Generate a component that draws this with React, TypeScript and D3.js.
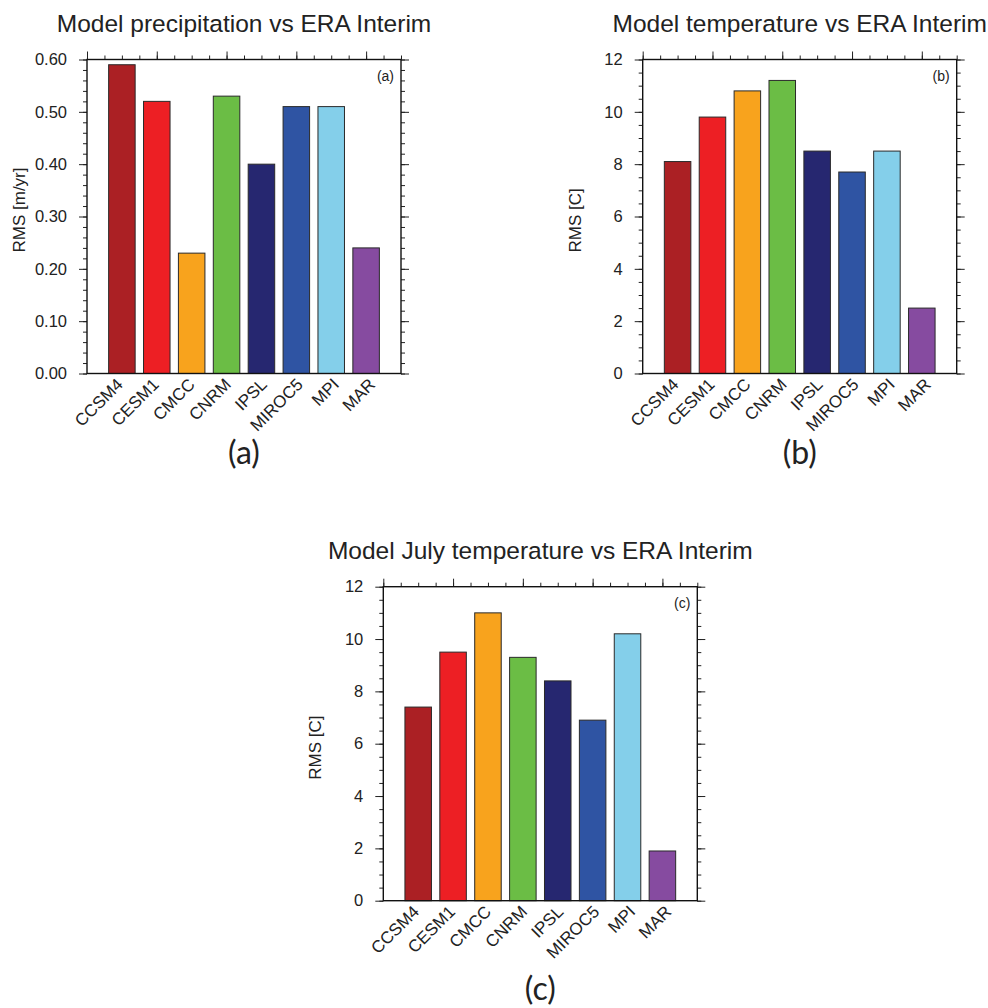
import React, { useEffect, useRef } from 'react';
import * as d3 from 'd3';

const models = ['CCSM4', 'CESM1', 'CMCC', 'CNRM', 'IPSL', 'MIROC5', 'MPI', 'MAR'];
const modelColors = ['#ab2024', '#ed1f24', '#f8a31d', '#6bbd45', '#262770', '#2f54a3', '#84cfea', '#864ba0'];

const precipRms = [0.59, 0.52, 0.23, 0.53, 0.40, 0.51, 0.51, 0.24];
const tempRms = [8.1, 9.8, 10.8, 11.2, 8.5, 7.7, 8.5, 2.5];
const julyTempRms = [7.4, 9.5, 11.0, 9.3, 8.4, 6.9, 10.2, 1.9];

const precipTicks = [0, 0.1, 0.2, 0.3, 0.4, 0.5, 0.6];
const tempTicks = [0, 2, 4, 6, 8, 10, 12];
const topTicks = [0, 2, 4, 6, 8];

interface PanelConfig {
  title: string;
  values: number[];
  yTicks: number[];
  minorStep: number;
  format: (v: number) => string;
  yLabel: string;
  letter: string;
  left: number;
  top: number;
  bigLetterY: number;
}

const SIZE = 314;
const FONT = '"Liberation Sans", Arial, Helvetica, sans-serif';

const drawPanel = (svg: d3.Selection<SVGSVGElement, unknown, null, undefined>, cfg: PanelConfig) => {
  const g = svg.append('g').attr('transform', `translate(${cfg.left}, ${cfg.top})`);
  const yMax = cfg.yTicks[cfg.yTicks.length - 1];

  const x = d3.scaleLinear().domain([0, models.length + 1]).range([0, SIZE]);
  const y = d3.scaleLinear().domain([0, yMax]).range([SIZE, 0]);
  const barW = (x(1) - x(0)) * 0.76;
  // labels drift a bit to the right of the bars in the original
  const labelX = d3.scaleLinear().domain([1, models.length]).range([x(1) + 2, x(models.length) + 10]);

  const minorY = d3.range(0, yMax + cfg.minorStep / 2, cfg.minorStep);
  const minorX = d3.range(0, models.length + 1.25, 0.5);

  const styleAxis = (sel: d3.Selection<SVGGElement, unknown, null, undefined>) => {
    sel.select('.domain').remove();
    sel.selectAll('line').attr('stroke', '#222').attr('stroke-width', 1);
    sel.selectAll('text').attr('fill', '#222').style('font-family', FONT).style('font-size', '16.5px');
  };

  // left axis
  g.append('g').call(d3.axisLeft(y).tickValues(minorY).tickSize(4).tickFormat(() => '')).call(styleAxis);
  g.append('g')
    .call(d3.axisLeft(y).tickValues(cfg.yTicks).tickSize(8).tickPadding(12).tickFormat((d) => cfg.format(d as number)))
    .call(styleAxis);

  // right axis
  g.append('g').attr('transform', `translate(${SIZE},0)`)
    .call(d3.axisRight(y).tickValues(minorY).tickSize(4).tickFormat(() => '')).call(styleAxis);
  g.append('g').attr('transform', `translate(${SIZE},0)`)
    .call(d3.axisRight(y).tickValues(cfg.yTicks).tickSize(8).tickFormat(() => '')).call(styleAxis);

  // top axis
  g.append('g').call(d3.axisTop(x).tickValues(minorX).tickSize(4).tickFormat(() => '')).call(styleAxis);
  g.append('g').call(d3.axisTop(x).tickValues(topTicks).tickSize(8).tickFormat(() => '')).call(styleAxis);

  // bars
  g.selectAll('.bar')
    .data(cfg.values)
    .enter()
    .append('rect')
    .attr('class', 'bar')
    .attr('x', (_, i) => x(i + 1) - barW / 2)
    .attr('width', barW)
    .attr('y', (d) => y(d))
    .attr('height', (d) => SIZE - y(d))
    .attr('fill', (_, i) => modelColors[i])
    .attr('stroke', '#2a2a2a')
    .attr('stroke-width', 1);

  // frame
  g.append('rect')
    .attr('x', 0)
    .attr('y', 0)
    .attr('width', SIZE)
    .attr('height', SIZE)
    .attr('fill', 'none')
    .attr('stroke', '#111')
    .attr('stroke-width', 1.4);

  // category labels
  g.selectAll('.xlab')
    .data(models)
    .enter()
    .append('text')
    .attr('class', 'xlab')
    .attr('transform', (_, i) => `translate(${labelX(i + 1)}, ${SIZE + 12}) rotate(-45)`)
    .attr('text-anchor', 'end')
    .style('font-family', FONT)
    .style('font-size', '17px')
    .attr('fill', '#222')
    .text((d) => d);

  // y label
  g.append('text')
    .attr('transform', `translate(-62, ${SIZE - 121}) rotate(-90)`)
    .attr('text-anchor', 'start')
    .style('font-family', FONT)
    .style('font-size', '17px')
    .attr('fill', '#222')
    .text(cfg.yLabel);

  // title
  g.append('text')
    .attr('x', SIZE / 2)
    .attr('y', -28)
    .attr('text-anchor', 'middle')
    .style('font-family', FONT)
    .style('font-size', '24.5px')
    .attr('fill', '#222')
    .text(cfg.title);

  // small panel letter
  g.append('text')
    .attr('x', SIZE - 7)
    .attr('y', 21)
    .attr('text-anchor', 'end')
    .style('font-family', FONT)
    .style('font-size', '14px')
    .attr('fill', '#222')
    .text(`(${cfg.letter})`);

  // big panel letter below
  svg.append('text')
    .attr('x', cfg.left + SIZE / 2)
    .attr('y', cfg.bigLetterY)
    .attr('text-anchor', 'middle')
    .style('font-family', 'Lato, "Open Sans", sans-serif')
    .style('font-size', '32px')
    .attr('fill', '#222')
    .text(`(${cfg.letter})`);
};

const App: React.FC = () => {
  const svgRef = useRef<SVGSVGElement>(null);

  useEffect(() => {
    if (!svgRef.current) return;
    const svg = d3.select(svgRef.current);
    svg.selectAll('*').remove();

    const fmt2 = d3.format('.2f');
    const fmt0 = d3.format('d');

    drawPanel(svg, {
      title: 'Model precipitation vs ERA Interim',
      values: precipRms,
      yTicks: precipTicks,
      minorStep: 0.02,
      format: fmt2,
      yLabel: 'RMS [m/yr]',
      letter: 'a',
      left: 87,
      top: 59.5,
      bigLetterY: 464,
    });

    drawPanel(svg, {
      title: 'Model temperature vs ERA Interim',
      values: tempRms,
      yTicks: tempTicks,
      minorStep: 0.5,
      format: fmt0,
      yLabel: 'RMS [C]',
      letter: 'b',
      left: 642.7,
      top: 59.5,
      bigLetterY: 464,
    });

    drawPanel(svg, {
      title: 'Model July temperature vs ERA Interim',
      values: julyTempRms,
      yTicks: tempTicks,
      minorStep: 0.5,
      format: fmt0,
      yLabel: 'RMS [C]',
      letter: 'c',
      left: 383.3,
      top: 586.7,
      bigLetterY: 1000,
    });
  }, []);

  return (
    <svg
      ref={svgRef}
      width={988}
      height={1008}
      style={{ position: 'absolute', left: 0, top: 0, background: '#fff' }}
    />
  );
};

export default App;
